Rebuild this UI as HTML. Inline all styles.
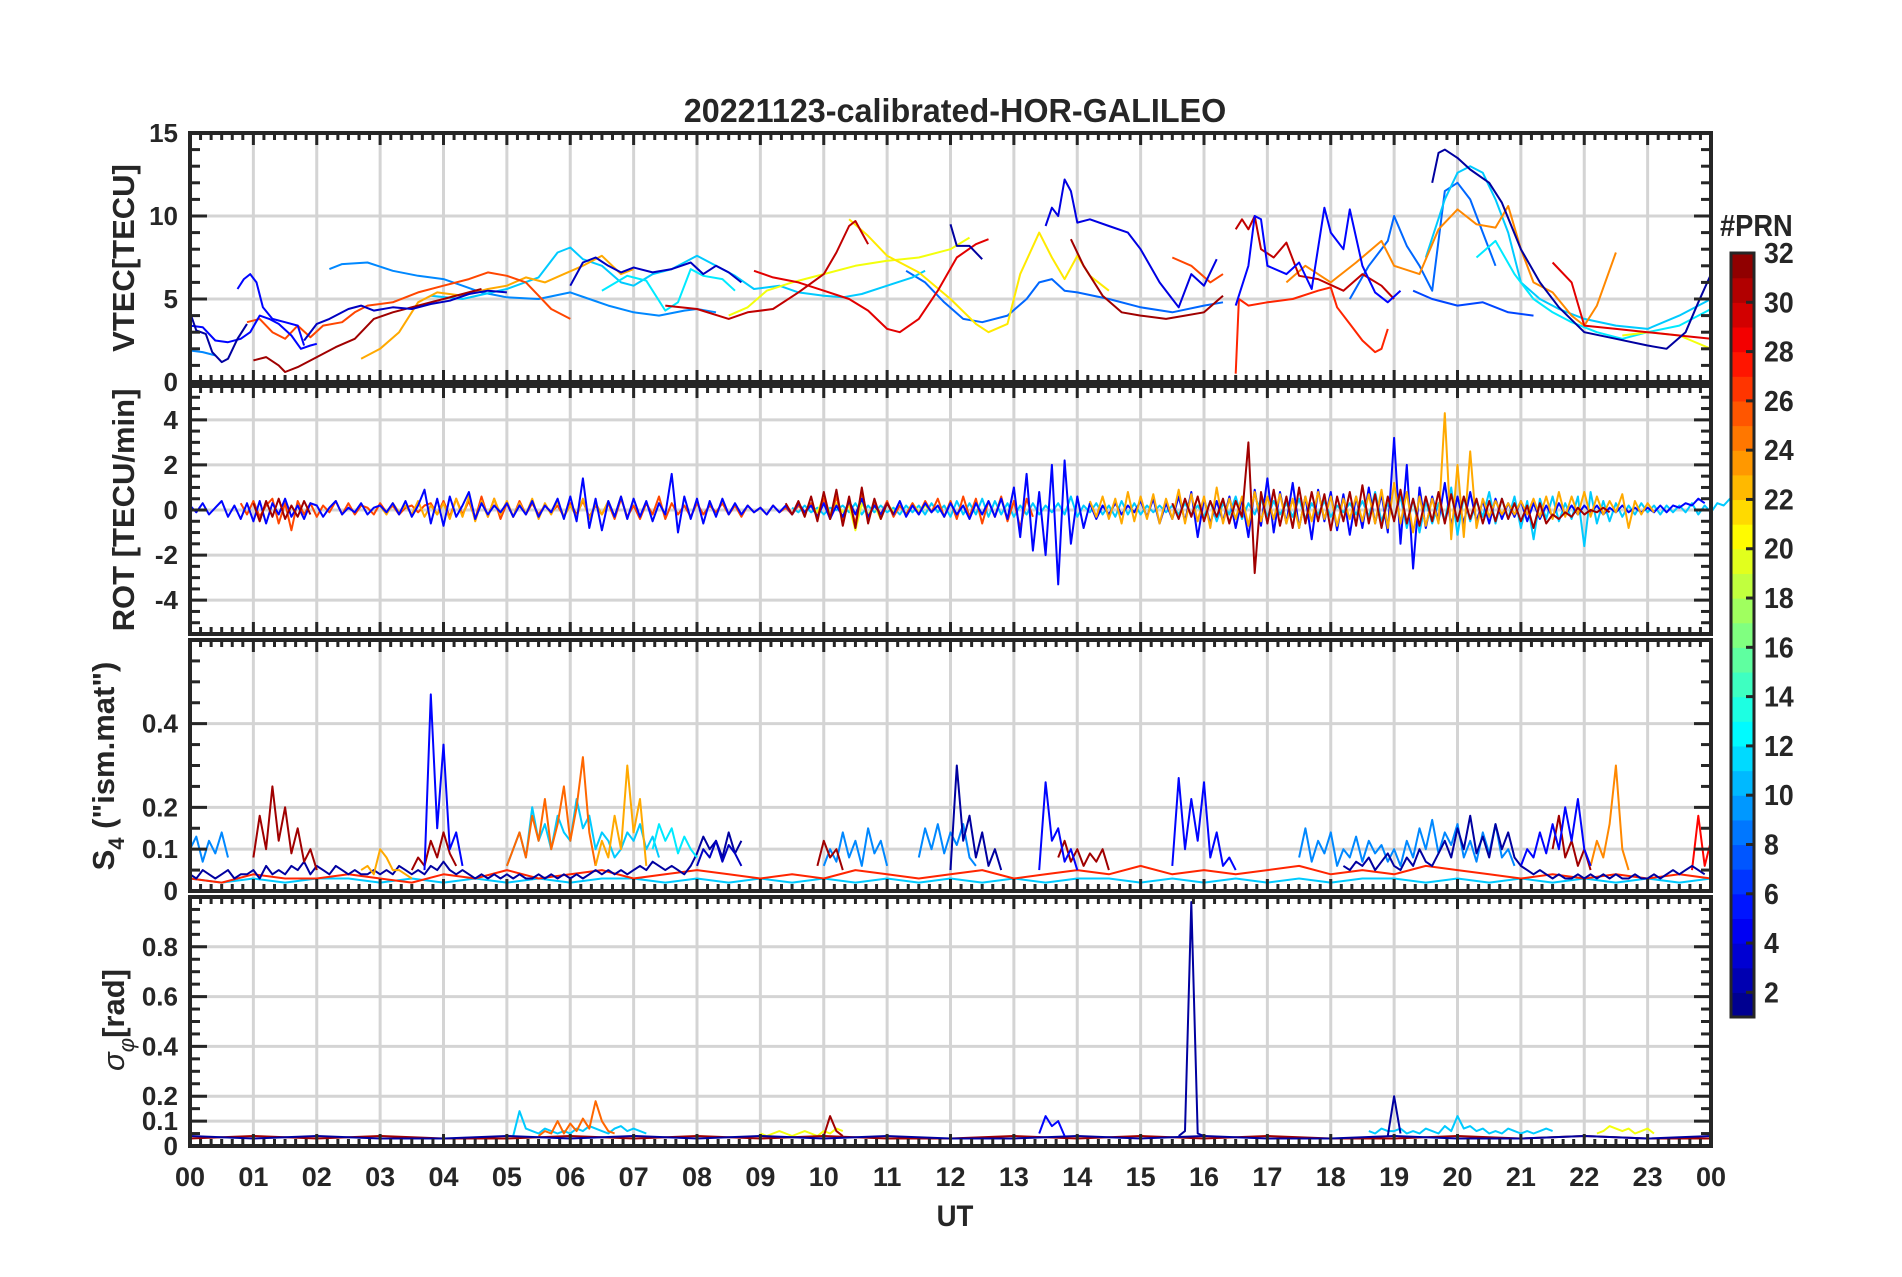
<!DOCTYPE html>
<html><head><meta charset="utf-8">
<style>
html,body{margin:0;padding:0;background:#fff;}
body{width:1902px;height:1272px;overflow:hidden;font-family:"Liberation Sans",Arial,sans-serif;}
svg text{font-family:"Liberation Sans",Arial,sans-serif;font-weight:bold;fill:#262626;}
</style></head>
<body>
<svg id="fig" xmlns="http://www.w3.org/2000/svg" width="1902" height="1272" viewBox="0 0 1902 1272">
<text x="0" y="0" font-size="33" text-anchor="middle" transform="translate(955,122) scale(0.98,1)">20221123-calibrated-HOR-GALILEO</text>
<g id="panels"></g>
<g id="cbar"></g>
<text x="0" y="0" font-size="30" text-anchor="middle" transform="translate(955,1226) scale(0.92,1)">UT</text>
</svg>
<script>
// ---------- data ----------
const hourLabels = ["00","01","02","03","04","05","06","07","08","09","10","11","12","13","14","15","16","17","18","19","20","21","22","23","00"];
const vtecTicks = [0,5,10,15];
const rotTicks = [-4,-2,0,2,4];
const s4Ticks = [0,0.1,0.2,0.4];
const sigTicks = [0,0.1,0.2,0.4,0.6,0.8];
const cbarTicks = [2,4,6,8,10,12,14,16,18,20,22,24,26,28,30,32];

// VTEC series: [hour, TECU]
const vtec_p02a=[[0,4.2],[0.1,3.1],[0.25,2.9],[0.35,1.8],[0.5,1.2],[0.6,1.4],[0.75,2.6],[0.9,3.5]];
const vtec_p05a=[[0,3.4],[0.2,3.3],[0.4,2.5],[0.6,2.4],[0.8,2.6],[0.95,3.0],[1.1,4.0],[1.25,3.8],[1.4,3.5],[1.6,2.8],[1.75,2.0],[1.9,2.2],[2.0,2.3]];
const vtec_p05b=[[0.75,5.6],[0.85,6.2],[0.95,6.5],[1.05,6.0],[1.15,4.5],[1.3,3.8],[1.5,3.6],[1.7,3.4],[1.8,2.2]];
const vtec_p03a=[[1.8,2.5],[2.0,3.5],[2.2,3.8],[2.5,4.4],[2.7,4.6],[2.9,4.3],[3.2,4.5],[3.5,4.4],[3.8,4.7],[4.1,4.9],[4.4,5.3],[4.7,5.5],[5.0,5.4]];
const vtec_p09s=[[0,1.9],[0.2,1.8],[0.4,1.6]];
const vtec_p09a=[[2.2,6.8],[2.4,7.1],[2.8,7.2],[3.2,6.7],[3.6,6.4],[4.0,6.2],[4.3,5.8],[4.6,5.4],[5.0,5.1],[5.5,5.0],[6.0,5.4],[6.3,5.0],[6.6,4.6],[7.0,4.2],[7.4,4.0],[7.8,4.3],[8.0,4.4],[8.3,4.2]];
const vtec_p26a=[[0.9,3.6],[1.1,3.8],[1.3,3.0],[1.5,2.6],[1.7,3.4],[1.9,2.7],[2.1,3.4],[2.4,3.6],[2.6,4.2],[2.8,4.6],[3.2,4.8],[3.6,5.4],[4.0,5.8],[4.4,6.2],[4.7,6.6],[5.0,6.4],[5.3,6.0],[5.5,5.2],[5.7,4.4],[6.0,3.8]];
const vtec_p23a=[[2.7,1.4],[3.0,2.0],[3.3,3.0],[3.6,4.8],[3.9,5.4],[4.3,5.2],[4.7,5.6],[5.0,5.8],[5.3,6.3],[5.6,6.0],[5.9,6.5],[6.2,7.0],[6.5,7.6],[6.8,6.5],[7.0,6.8]];
const vtec_p31a=[[1.0,1.3],[1.2,1.5],[1.4,1.0],[1.5,0.6],[1.7,0.9],[2.0,1.5],[2.3,2.1],[2.6,2.6],[2.9,3.8],[3.2,4.2],[3.6,4.6],[4.0,5.0],[4.6,5.6]];
const vtec_p11a=[[3.8,5.2],[4.3,5.0],[5.0,5.6],[5.5,6.3],[5.8,7.8],[6.0,8.1],[6.2,7.4],[6.5,7.0],[6.8,6.0],[7.0,5.8],[7.3,6.5],[7.6,6.8],[8.0,7.6],[8.3,7.0],[8.6,6.4],[8.9,5.6],[9.3,5.8],[9.6,5.4],[10.0,5.2],[10.3,5.1],[10.6,5.3],[11.0,5.8],[11.4,6.3],[11.6,6.7]];
const vtec_p03b=[[6.0,5.8],[6.2,7.2],[6.4,7.5],[6.6,7.0],[6.8,6.6],[7.0,6.9],[7.3,6.6],[7.6,6.8],[7.9,7.2],[8.1,6.5],[8.3,7.0],[8.5,6.6],[8.7,6.0]];
const vtec_p12a=[[6.5,5.5],[6.9,6.4],[7.2,6.1],[7.5,4.3],[7.7,4.8],[7.9,6.8],[8.1,6.4],[8.4,6.2],[8.6,5.5]];
const vtec_p29a=[[8.9,6.7],[9.2,6.3],[9.6,6.0],[10.0,5.5],[10.4,5.0],[10.7,4.3],[11.0,3.2],[11.2,3.0],[11.5,3.8],[11.8,5.5],[12.1,7.5],[12.4,8.3],[12.6,8.6]];
const vtec_p30a=[[7.5,4.6],[8.0,4.4],[8.5,3.8],[8.8,4.2],[9.2,4.4],[9.6,5.4],[10.0,6.5],[10.2,7.8],[10.4,9.4],[10.5,9.7],[10.6,9.0],[10.7,8.3]];
const vtec_p20a=[[8.5,4.0],[8.8,4.5],[9.1,5.5],[9.5,6.0],[10.0,6.5],[10.5,7.0],[11.0,7.3],[11.5,7.5],[12.0,8.0],[12.3,8.7]];
const vtec_p21a=[[10.4,9.8],[10.7,8.8],[11.0,7.6],[11.5,6.6],[12.0,5.0],[12.4,3.5],[12.6,3.0],[12.9,3.5],[13.1,6.5],[13.4,9.0],[13.6,7.5],[13.8,6.2],[14.0,7.6],[14.2,6.4],[14.5,5.5]];
const vtec_p08a=[[11.3,6.7],[11.6,6.0],[11.9,4.8],[12.2,3.8],[12.5,3.6],[12.9,4.0],[13.2,5.0],[13.4,6.0],[13.6,6.2],[13.8,5.5],[14.0,5.4],[14.5,5.0],[15.0,4.5],[15.5,4.2],[16.0,4.6],[16.3,4.8]];
const vtec_p02b=[[12.0,9.5],[12.1,8.2],[12.3,8.2],[12.5,7.4]];
const vtec_p04a=[[13.5,9.4],[13.6,10.5],[13.7,10.0],[13.8,12.2],[13.9,11.5],[14.0,9.6],[14.2,9.8],[14.5,9.4],[14.8,9.0],[15.0,8.0],[15.3,6.0],[15.5,5.0],[15.6,4.5],[15.8,6.5],[16.0,5.8],[16.2,7.4]];
const vtec_p31b=[[13.9,8.6],[14.1,7.0],[14.4,5.2],[14.7,4.2],[15.0,4.0],[15.4,3.8],[15.7,4.0],[16.0,4.2],[16.3,5.2]];
const vtec_p26b=[[15.5,7.5],[15.8,7.0],[16.1,6.0],[16.3,6.5]];
const vtec_p30b=[[16.5,9.2],[16.6,9.8],[16.7,9.2],[16.8,10.0],[16.9,8.0],[17.1,7.5],[17.3,8.4],[17.5,6.4],[17.8,6.2],[18.2,5.5],[18.5,6.5],[18.8,5.8],[19.0,5.0]];
const vtec_p05c=[[16.5,4.6],[16.7,7.0],[16.8,10.0],[16.9,9.8],[17.0,7.0],[17.3,6.5],[17.5,7.2],[17.7,5.6],[17.9,10.5],[18.0,9.0],[18.2,8.0],[18.3,10.4],[18.5,7.0],[18.7,5.4],[18.9,4.8],[19.1,5.5]];
const vtec_p27a=[[16.5,0.5],[16.55,5.0],[16.7,4.6],[17.0,4.8],[17.4,5.0],[17.8,5.5],[18.0,5.7],[18.1,4.5],[18.3,3.5],[18.5,2.5],[18.7,1.8],[18.8,2.0],[18.9,3.2]];
const vtec_p08b=[[18.3,5.0],[18.6,7.0],[18.9,8.5],[19.0,10.0],[19.2,8.2],[19.4,7.0],[19.6,5.5],[19.8,11.5],[20.0,12.0],[20.2,11.0],[20.4,9.0],[20.6,7.0]];
const vtec_p02c=[[19.6,12.0],[19.7,13.8],[19.8,14.0],[20.0,13.5],[20.2,12.8],[20.5,12.0],[20.7,10.8],[21.0,8.0],[21.3,6.0],[21.6,4.5],[22.0,3.0],[22.5,2.6],[23.0,2.2],[23.3,2.0],[23.6,3.0],[23.8,4.8],[24,6.5]];
const vtec_p11b=[[19.5,7.5],[19.8,11.0],[20.0,12.6],[20.2,13.0],[20.4,12.6],[20.6,11.0],[20.8,9.0],[21.0,6.0],[21.3,5.0],[21.6,4.4],[22.0,3.8],[22.5,3.4],[23.0,3.2],[23.5,4.0],[24,5.0]];
const vtec_p24a=[[17.3,6.0],[17.6,7.0],[18.0,6.0],[18.4,7.2],[18.8,8.5],[19.0,7.0],[19.4,6.5],[19.7,9.2],[20.0,10.4],[20.3,9.5],[20.6,9.3],[20.8,10.6],[21.0,8.0],[21.2,6.0],[21.5,5.4],[21.8,4.0],[22.0,3.4],[22.2,4.6],[22.5,7.8]];
const vtec_p12b=[[20.3,7.5],[20.6,8.5],[20.9,6.5],[21.2,5.0],[21.5,4.2],[21.8,3.6],[22.2,3.0],[22.6,2.6],[23.0,3.0],[23.5,3.4],[24,4.4]];
const vtec_p29b=[[21.5,7.2],[21.8,6.0],[22.0,3.4],[22.5,3.2],[23.0,3.0],[23.5,2.8],[24,2.6]];
const vtec_p20b=[[22.6,2.8],[23.0,3.0],[23.5,2.8],[24,2.0]];
const vtec_p07a=[[19.3,5.5],[19.6,5.0],[20.0,4.6],[20.4,4.8],[20.8,4.2],[21.2,4.0]];

// ROT series: start hour, step 0.1 h, values [TECU/min]
const rot_p05=[0.2,-0.1,0.3,-0.2,0.1,0.4,-0.3,0.2,-0.4,0.3,-0.5,0.4,-0.6,0.3,-0.2,0.5,-0.3,0.2,-0.4,0.3,0.2,-0.3,0.1,0.4,-0.2,0.1,-0.1,0.3,-0.2,0.1,0.2,-0.1,0.3,-0.2,0.4,-0.3,0.2,0.9,-0.6,0.5,-0.7,0.6,-0.3,0.2,0.8,-0.4,0.3,-0.2,0.2,-0.1,0.3,-0.3,0.2,-0.2,0.4,-0.3,0.2,-0.1,0.5,-0.4,0.6,-0.5,1.4,-0.8,0.5,-0.9,0.4,-0.3,0.6,-0.4,0.5,-0.3,0.4,-0.5,0.3,-0.2,1.6,-1.0,0.6,-0.4,0.5,-0.6,0.4,-0.3,0.5,-0.2,0.3,-0.2,0.2,-0.1,0.1,-0.2,0.2,-0.1,0.2,-0.2,0.3,-0.1,0.2,-0.3,0.3,-0.4,0.2,-0.3,0.4,-0.2,0.5,-0.3,0.2,-0.2,0.3,-0.2,0.4,-0.3,0.2,-0.2,0.3,-0.1,0.2,-0.3,0.3,-0.2,0.2,-0.4,0.3,-0.2,0.4,-0.3,0.5,-0.4,1.0,-1.2,1.6,-1.8,0.8,-2.0,2.0,-3.3,2.2,-1.5,0.6,-0.8,0.3,-0.4,0.2,-0.2,0.3,-0.2,0.2,-0.1,0.4,-0.3,0.5,-0.6,0.3,-0.4,0.6,-0.5,0.8,-1.2,0.5,-0.6,0.4,-0.5,0.6,-0.8,0.5,-1.2,0.9,-0.7,1.4,-1.0,0.8,-0.6,1.2,-0.8,0.6,-1.3,0.9,-0.5,0.8,-0.9,0.7,-1.1,0.6,-0.8,1.0,-0.6,0.7,-1.0,3.2,-1.5,2.0,-2.6,1.0,-0.8,0.6,-0.5,1.2,-0.7,0.6,-0.6,0.8,-0.5,0.4,-0.6,0.5,-0.4,0.3,-0.3,0.4,-0.5,0.3,-0.4,0.2,-0.3,0.3,-0.2,0.2,-0.2,0.2,-0.1,0.2,-0.2,0.1,-0.1,0.2,-0.1,0.1,-0.1,0.1,-0.1,0.2,-0.1,0.2,0.1,0.3,0.2,0.5,0.3];
const rot_p05_t0=0;
const rot_p09=[0.1,-0.1,0.2,-0.1,0.1,-0.2,0.1,0.0,0.2,-0.1,0.3,-0.2,0.2,-0.1,0.2,-0.1,0.1,-0.2,0.2,-0.1,0.2,-0.2,0.3,-0.1,0.2,-0.3,0.4,-0.2,0.3,-0.2,0.5,-0.3,0.4,-0.2,0.3,-0.3,0.2,-0.2,0.3,-0.2,0.2,-0.1,0.3,-0.2,0.6,-0.3,0.2,-0.1,0.3,-0.2,0.2,-0.3,0.4,-0.2,0.3,-0.2,0.2,-0.1,0.2,-0.1,0.2,-0.2,0.3,-0.2,0.2,-0.3,0.4,-0.5,0.3,-0.2,0.6,-0.4,0.3,-0.2,0.5,-0.3,0.4,-0.2,0.3,-0.3,0.5,-0.4,0.3,-0.2,0.4,-0.3,0.2,-0.1,0.3,-0.2,0.4,-0.3,0.8,-0.5,0.3,-0.4,0.6,-0.8,0.5,-1.0,0.4,-0.6,0.3,-0.5,1.0,-1.1,0.6,-0.5,0.4,-0.3,0.8,-0.6,0.5,-0.4,0.6,-0.8,0.4,-1.3,0.5,-0.4,0.6,-0.5,0.3,-0.4,0.6,-1.6,0.8,-0.6,0.4,-0.5,0.3,-0.3,0.2,-0.2,0.3,-0.1,0.2,-0.2,0.2,-0.1,0.2,-0.1,0.3,-0.2,0.2,-0.1,0.3,0.2,0.5,0.4,0.7,0.3];
const rot_p09_t0=9.5;
const rot_p26=[0.3,-0.2,0.4,-0.3,0.2,0.5,-0.6,0.3,-0.9,0.4,-0.2,0.3,-0.3,0.2,-0.1,0.4,-0.2,0.3,-0.2,0.2,0.1,-0.2,0.3,-0.1,0.2,-0.2,0.1,0.2,-0.1,0.2,0.3,-0.2,0.4,-0.3,0.5,-0.2,0.4,-0.4,0.6,-0.3,0.5,-0.4,0.3,-0.3,0.4,-0.2,0.3,-0.2,0.2,-0.1,0.2,-0.3,0.3,-0.2,0.4,-0.3,0.2,-0.2,0.3,-0.4,0.5,-0.3,0.2,-0.4,0.3,-0.2,0.6,-0.4,0.3,-0.2,0.2,-0.3,0.3,-0.2,0.2,-0.1,0.3,-0.2,0.2,-0.3,0.2,-0.1,0.1,-0.2,0.2,-0.1,0.1,-0.2,0.2,-0.1,0.3,-0.3,0.5,-0.4,0.6,-0.5,0.4,-0.6,0.8,-0.4,0.3,-0.2,0.4,-0.3,0.2,-0.2,0.3,-0.2,0.4,-0.1,0.5,-0.3,0.4,-0.4,0.6,-0.3,0.5,-0.6,0.4,-0.3,0.6,-0.5,0.4,-0.8,0.5,-0.3];
const rot_p26_t0=0.8;
const rot_p31=[0.3,-0.5,0.4,-0.3,0.5,-0.4,0.2,-0.3,0.4,-0.2];
const rot_p31_t0=1.0;
const rot_p31b=[0.3,-0.2,0.4,-0.3,0.6,-0.5,0.8,-0.4,0.9,-0.7,0.6,-0.8,1.0,-0.6,0.5,-0.4,0.3,-0.2];
const rot_p31b_t0=9.4;
const rot_p31c=[0.3,-0.4,0.5,-0.3,0.6,-0.5,0.4,-0.3,0.5,-0.6,0.4,-0.3,3.0,-2.8,0.8,-0.6,0.9,-0.7,0.6,-0.8,1.0,-0.6,0.8,-0.5,0.7,-0.9,0.6,-0.5,0.8,-0.7,1.1,-0.6,0.7,-0.8,0.6,-0.5,0.9,-0.6,0.5,-0.7,0.6,-0.5,0.8,-0.6,0.7,-0.5,0.6,-0.4,0.5,-0.6,0.4,-0.5,0.5,-0.4,0.3,-0.5,0.2,-0.8,0.3,-0.6,-0.2,-0.4,-0.1,-0.3,0.1,-0.2,0.0,-0.1,0.1,-0.1];
const rot_p31c_t0=15.5;
const rot_p23=[0.2,-0.2,0.3,-0.1,0.2,-0.2,0.4,-0.3,0.2,-0.2,0.3,-0.4,0.5,-0.3,0.6,-0.5,0.4,-0.3,0.5,-0.2,0.4,-0.3,0.3,-0.2,0.5,-0.4,0.3,-0.2,0.4,-0.3,0.2,-0.3,0.5,-0.4,0.3,-0.2,0.4,-0.3,0.6,-0.4];
const rot_p23_t0=3.0;
const rot_p23b=[0.4,-0.3,0.6,-0.4,0.5,-0.6,0.8,-0.5,0.6,-0.4,0.7,-0.6,0.5,-0.4,0.9,-0.6,0.7,-0.5,0.6,-0.8,1.0,-0.6,0.5,-0.4,0.6,-0.7,0.8,-0.5,0.6,-0.4,0.7,-0.6,0.5,-0.8,0.6,-0.5,0.8,-0.4,0.6,-0.7,0.5,-0.4,0.6,-0.5,0.7,-0.6,0.9,-0.8,1.2,-0.6,0.8,-1.0,0.6,-0.7,0.5,-0.6,4.3,-1.3,2.0,-1.2,2.6,-0.8,0.5,-0.3,0.4,-0.2,0.3,-0.2,0.4,-0.2,0.5,-0.3,0.6,-0.4,0.8,-0.3,0.6,-0.2,0.8,-0.3,0.6,-0.2,0.4,-0.1,0.7,-0.8,0.4,-0.2,0.3,-0.1];
const rot_p23b_t0=14.2;
const rot_p20=[0.2,-0.1,0.6,-0.2,0.3,-0.1,0.2,-0.9,0.3,-0.2,0.2,-0.4,0.3,-0.1,0.2,-0.2,0.3,-0.1,0.2,-0.1];
const rot_p20_t0=9.8;

// S4 series (step 0.1 h except base series)
const s4_p02=[0.04,0.03,0.05,0.04,0.03,0.04,0.05,0.03,0.04,0.04,0.05,0.03,0.06,0.04,0.05,0.04,0.06,0.05,0.07,0.04,0.06,0.05,0.04,0.06,0.05,0.04,0.05,0.04,0.04,0.05,0.04,0.05,0.04,0.06,0.05,0.04,0.05,0.04,0.06,0.05,0.07,0.05,0.04,0.05,0.04,0.03,0.04,0.03,0.04,0.03,0.04,0.03,0.04,0.03,0.03,0.04,0.03,0.04,0.03,0.04,0.03,0.04,0.03,0.04,0.05,0.04,0.05,0.04,0.05,0.04,0.05,0.06,0.05,0.07,0.06,0.05,0.06,0.05,0.04,0.06,0.09,0.13,0.10,0.12,0.08,0.14,0.09,0.12];
const s4_p02_t0=0;
const s4_p02b=[0.05,0.30,0.12,0.18,0.08,0.14,0.06,0.10,0.05];
const s4_p02b_t0=12.0;
const s4_p02c=[0.06,0.05,0.07,0.06,0.08,0.05,0.07,0.09,0.06,0.05,0.08,0.06,0.10,0.07,0.06,0.09,0.12,0.08,0.15,0.10,0.18,0.09,0.13,0.08,0.16,0.10,0.14,0.08,0.06,0.05,0.04,0.05,0.04,0.03,0.04,0.03,0.03,0.04,0.03,0.04,0.03,0.04,0.03,0.04,0.03,0.03,0.04,0.03,0.03,0.04,0.03,0.04,0.05,0.04,0.05,0.06,0.05,0.04];
const s4_p02c_t0=18.2;
const s4_p05=[0.05,0.47,0.15,0.35,0.10,0.14,0.06];
const s4_p05_t0=3.7;
const s4_p05b=[0.05,0.26,0.12,0.15,0.07,0.10,0.05];
const s4_p05b_t0=13.4;
const s4_p05c=[0.06,0.27,0.10,0.22,0.12,0.26,0.08,0.14,0.06,0.08,0.05];
const s4_p05c_t0=15.5;
const s4_p05d=[0.06,0.10,0.08,0.14,0.09,0.16,0.10,0.20,0.12,0.22,0.10,0.06];
const s4_p05d_t0=21.0;
const s4_p09=[0.10,0.13,0.07,0.12,0.09,0.14,0.08];
const s4_p09_t0=0;
const s4_p09b=[0.06,0.10,0.07,0.14,0.08,0.12,0.06,0.15,0.09,0.12,0.06];
const s4_p09b_t0=10.0;
const s4_p09c=[0.08,0.15,0.10,0.16,0.09,0.14,0.11,0.16,0.08,0.06];
const s4_p09c_t0=11.5;
const s4_p09d=[0.08,0.15,0.07,0.12,0.09,0.14,0.06,0.10,0.08,0.13,0.07,0.12,0.09,0.11,0.07,0.10,0.06,0.12,0.08,0.15,0.10,0.17,0.09,0.14,0.11,0.16,0.08,0.12,0.07,0.14,0.09,0.16,0.08,0.10,0.06];
const s4_p09d_t0=17.5;
const s4_p11=[0.06,0.10,0.14,0.08,0.20,0.12,0.16,0.10,0.18,0.14,0.12,0.22,0.15,0.18,0.10,0.14,0.12,0.08,0.10,0.14,0.12,0.16,0.10,0.13,0.08];
const s4_p11_t0=5.0;
const s4_p11b=[0.10,0.16,0.12,0.15,0.09,0.13,0.10,0.08];
const s4_p11b_t0=7.3;
const s4_p11c=[0.03,0.02,0.03,0.02,0.03,0.03,0.02,0.03,0.02,0.03,0.02,0.03,0.02,0.03,0.03,0.02,0.03,0.02,0.03,0.02,0.03,0.02,0.03,0.02,0.03,0.02,0.03,0.02,0.03,0.03,0.02,0.03,0.02,0.03,0.02,0.03,0.02,0.03,0.03,0.02,0.03,0.02,0.03,0.02,0.03,0.02,0.03,0.02,0.03];
const s4_p11c_t0=0;
const s4_p11c_dt=0.5;
const s4_p03=[0.06,0.10,0.08,0.12,0.07,0.11,0.09,0.06];
const s4_p03_t0=8.0;
const s4_p25=[0.06,0.10,0.14,0.08,0.18,0.12,0.22,0.10,0.16,0.25,0.12,0.20,0.32,0.14,0.06];
const s4_p25_t0=5.0;
const s4_p23=[0.06,0.12,0.08,0.18,0.10,0.30,0.14,0.22,0.06];
const s4_p23_t0=6.4;
const s4_p23b=[0.05,0.06,0.04,0.10,0.08,0.05,0.05,0.04,0.03];
const s4_p23b_t0=2.7;
const s4_p24=[0.06,0.12,0.08,0.16,0.30,0.10,0.05];
const s4_p24_t0=22.1;
const s4_p27=[0.03,0.02,0.04,0.03,0.03,0.04,0.03,0.02,0.04,0.03,0.05,0.03,0.04,0.05,0.03,0.04,0.05,0.04,0.03,0.04,0.03,0.05,0.04,0.03,0.04,0.05,0.03,0.04,0.05,0.04,0.06,0.04,0.05,0.04,0.05,0.06,0.04,0.05,0.04,0.06,0.05,0.04,0.03,0.04,0.03,0.04,0.03,0.04,0.03];
const s4_p27_t0=0;
const s4_p27_dt=0.5;
const s4_p31=[0.08,0.18,0.10,0.25,0.12,0.20,0.09,0.15,0.07,0.10,0.05];
const s4_p31_t0=1.0;
const s4_p31b=[0.05,0.08,0.06,0.12,0.08,0.14,0.09,0.06];
const s4_p31b_t0=3.5;
const s4_p31c=[0.06,0.12,0.08,0.10,0.05];
const s4_p31c_t0=9.9;
const s4_p31d=[0.08,0.12,0.07,0.10,0.06,0.09,0.07,0.10,0.05];
const s4_p31d_t0=13.7;
const s4_p31e=[0.10,0.18,0.08,0.12,0.06,0.10,0.05];
const s4_p31e_t0=21.5;
const s4_p28=[0.05,0.18,0.06,0.12];
const s4_p28_t0=23.7;

// sigma-phi series
const sig_p02=[0.04,0.03,0.04,0.03,0.03,0.04,0.03,0.04,0.03,0.04,0.03,0.04,0.03,0.03,0.04,0.03,0.04,0.03,0.03,0.04,0.03,0.03,0.04,0.03,0.04];
const sig_p02_t0=0;
const sig_p02_dt=1;
const sig_p02b=[0.04,0.20,0.05];
const sig_p02b_t0=18.9;
const sig_p05=[0.04,0.06,0.98,0.05,0.04];
const sig_p05_t0=15.6;
const sig_p05b=[0.05,0.12,0.08,0.10,0.04];
const sig_p05b_t0=13.4;
const sig_p11=[0.04,0.14,0.07,0.06,0.05,0.07,0.06,0.05,0.06,0.05,0.07,0.06,0.08,0.07,0.06,0.05,0.07,0.08,0.06,0.07,0.06,0.05];
const sig_p11_t0=5.1;
const sig_p11b=[0.06,0.05,0.07,0.06,0.06,0.07,0.05,0.06,0.05,0.07,0.06,0.05,0.08,0.06,0.12,0.07,0.08,0.06,0.07,0.05,0.06,0.05,0.07,0.06,0.05,0.06,0.05,0.06,0.07,0.06];
const sig_p11b_t0=18.6;
const sig_p25=[0.04,0.06,0.05,0.10,0.05,0.09,0.06,0.11,0.07,0.18,0.10,0.06,0.05];
const sig_p25_t0=5.5;
const sig_p20=[0.05,0.04,0.05,0.06,0.05,0.04,0.05,0.06,0.05,0.04,0.06,0.05,0.07,0.06];
const sig_p20_t0=9.0;
const sig_p20b=[0.05,0.06,0.08,0.07,0.06,0.07,0.05,0.06,0.07,0.05];
const sig_p20b_t0=22.2;
const sig_p31=[0.03,0.04,0.03,0.04,0.03,0.03,0.04,0.03,0.04,0.03,0.04,0.03,0.03,0.04,0.03,0.04,0.03,0.04,0.03,0.03,0.04,0.03,0.04,0.03,0.03];
const sig_p31_t0=0;
const sig_p31_dt=1;
const sig_p31b=[0.04,0.12,0.06,0.04];
const sig_p31b_t0=10.0;

// ---------- layout ----------
const XL=190, XR=1711;
const panelsCfg=[
 {name:"vtec",y0:133,y1:382,min:0,max:15,major:vtecTicks,minorStep:1},
 {name:"rot",y0:386,y1:634,min:-5.5,max:5.5,major:rotTicks,minorStep:0.5},
 {name:"s4",y0:640,y1:891,min:0,max:0.6,major:s4Ticks,minorStep:0.05},
 {name:"sigma",y0:897,y1:1146,min:0,max:1.0,major:sigTicks,minorStep:0.05}
];
const NS="http://www.w3.org/2000/svg";
function xs(h){return XL+(XR-XL)*h/24;}
function ysFor(p){return v=>p.y1-(p.y1-p.y0)*(v-p.min)/(p.max-p.min);}
function jet(prn){
 const t=(prn-1)/31;
 const r=Math.max(0,Math.min(1,1.5-Math.abs(4*t-3)));
 const g=Math.max(0,Math.min(1,1.5-Math.abs(4*t-2)));
 const b=Math.max(0,Math.min(1,1.5-Math.abs(4*t-1)));
 return `rgb(${Math.round(r*255)},${Math.round(g*255)},${Math.round(b*255)})`;
}
function mk(tag,parent,attrs){const e=document.createElementNS(NS,tag);for(const k in attrs)e.setAttribute(k,attrs[k]);parent.appendChild(e);return e;}
const root=document.getElementById('panels');

function drawPanel(p,series){
 const ys=ysFor(p);
 const g=mk('g',root,{});
 
 
 for(let h=1;h<24;h++){
  const l=mk('line',g,{x1:xs(h),x2:xs(h),y1:p.y0,y2:p.y1,stroke:'#d4d4d4','stroke-width':3});
  
  
 }
 p.major.forEach(v=>{
  if(v===p.min||v===p.max)return;
  const l=mk('line',g,{x1:XL,x2:XR,y1:ys(v),y2:ys(v),stroke:'#d4d4d4','stroke-width':3});
  
  
 });
 const sg=mk('g',g,{});
 
 
 series.forEach(s=>{
  let pts;
  if(s.pairs) pts=s.pairs.map(q=>xs(q[0]).toFixed(1)+','+ys(Math.max(p.min,Math.min(p.max,q[1]))).toFixed(1));
  else pts=s.v.map((v,i)=>xs(s.t0+i*s.dt).toFixed(1)+','+ys(Math.max(p.min,Math.min(p.max,v))).toFixed(1));
  const pl=mk('polyline',sg,{points:pts.join(' '),fill:'none',stroke:jet(s.prn),'stroke-width':2,'stroke-linejoin':'round'});
  
  
 });
 const tk=mk('g',g,{stroke:'#262626'});
 
 
 for(let i=0;i<=144;i++){
  const x=xs(i/6), L=(i%6===0)?12:7;
  mk('line',tk,{x1:x,x2:x,y1:p.y0,y2:p.y0+L,'stroke-width':3});
  mk('line',tk,{x1:x,x2:x,y1:p.y1,y2:p.y1-L,'stroke-width':3});
 }
 const n=Math.round((p.max-p.min)/p.minorStep);
 for(let i=0;i<=n;i++){
  const v=p.min+i*p.minorStep;
  const isMaj=p.major.some(m=>Math.abs(m-v)<1e-6);
  const L=isMaj?17:10, y=ys(v);
  mk('line',tk,{x1:XL,x2:XL+L,y1:y,y2:y,'stroke-width':3});
  mk('line',tk,{x1:XR,x2:XR-L,y1:y,y2:y,'stroke-width':3});
 }
 const box=mk('rect',g,{x:XL,y:p.y0,width:XR-XL,height:p.y1-p.y0,fill:'none',stroke:'#262626','stroke-width':4});
 
 
 p.major.forEach(v=>{
  const t=mk('text',g,{x:178,y:ys(v)+9,'font-size':26,'text-anchor':'end'});
  t.textContent=String(v);
  
  
 });
}
function pairs(prn,arr){return {prn:prn,pairs:arr};}
function seq(prn,v,t0,dt){return {prn:prn,v:v,t0:t0,dt:dt||0.1};}

drawPanel(panelsCfg[0],[
 pairs(9,vtec_p09s),pairs(9,vtec_p09a),pairs(8,vtec_p08a),pairs(8,vtec_p08b),pairs(7,vtec_p07a),
 pairs(11,vtec_p11a),pairs(11,vtec_p11b),pairs(12,vtec_p12a),pairs(12,vtec_p12b),
 pairs(20,vtec_p20a),pairs(20,vtec_p20b),pairs(21,vtec_p21a),
 pairs(23,vtec_p23a),pairs(24,vtec_p24a),pairs(26,vtec_p26a),pairs(26,vtec_p26b),pairs(27,vtec_p27a),
 pairs(29,vtec_p29a),pairs(29,vtec_p29b),pairs(30,vtec_p30a),pairs(30,vtec_p30b),pairs(31,vtec_p31a),pairs(31,vtec_p31b),
 pairs(5,vtec_p05a),pairs(5,vtec_p05b),pairs(5,vtec_p05c),pairs(4,vtec_p04a),
 pairs(3,vtec_p03a),pairs(3,vtec_p03b),pairs(2,vtec_p02a),pairs(2,vtec_p02b),pairs(2,vtec_p02c)
]);
drawPanel(panelsCfg[1],[
 seq(11,rot_p09,rot_p09_t0),seq(20,rot_p20,rot_p20_t0),seq(26,rot_p26,rot_p26_t0),seq(23,rot_p23,rot_p23_t0),
 seq(5,rot_p05,rot_p05_t0),seq(23,rot_p23b,rot_p23b_t0),
 seq(31,rot_p31,rot_p31_t0),seq(31,rot_p31b,rot_p31b_t0),seq(31,rot_p31c,rot_p31c_t0)
]);
drawPanel(panelsCfg[2],[
 seq(11,s4_p11c,s4_p11c_t0,s4_p11c_dt),seq(27,s4_p27,s4_p27_t0,s4_p27_dt),seq(2,s4_p02,s4_p02_t0),
 seq(9,s4_p09,s4_p09_t0),seq(9,s4_p09b,s4_p09b_t0),seq(9,s4_p09c,s4_p09c_t0),seq(9,s4_p09d,s4_p09d_t0),
 seq(11,s4_p11,s4_p11_t0),seq(12,s4_p11b,s4_p11b_t0),seq(3,s4_p03,s4_p03_t0),
 seq(25,s4_p25,s4_p25_t0),seq(23,s4_p23,s4_p23_t0),seq(23,s4_p23b,s4_p23b_t0),seq(24,s4_p24,s4_p24_t0),
 seq(31,s4_p31,s4_p31_t0),seq(31,s4_p31b,s4_p31b_t0),seq(31,s4_p31c,s4_p31c_t0),seq(31,s4_p31d,s4_p31d_t0),seq(31,s4_p31e,s4_p31e_t0),
 seq(28,s4_p28,s4_p28_t0),
 seq(5,s4_p05,s4_p05_t0),seq(5,s4_p05b,s4_p05b_t0),seq(5,s4_p05c,s4_p05c_t0),seq(5,s4_p05d,s4_p05d_t0),
 seq(2,s4_p02b,s4_p02b_t0),seq(2,s4_p02c,s4_p02c_t0)
]);
drawPanel(panelsCfg[3],[
 seq(11,sig_p11,sig_p11_t0),seq(11,sig_p11b,sig_p11b_t0),seq(20,sig_p20,sig_p20_t0),seq(20,sig_p20b,sig_p20b_t0),
 seq(25,sig_p25,sig_p25_t0),seq(31,sig_p31,sig_p31_t0,sig_p31_dt),seq(31,sig_p31b,sig_p31b_t0),
 seq(2,sig_p02,sig_p02_t0,sig_p02_dt),seq(5,sig_p05b,sig_p05b_t0),seq(2,sig_p02b,sig_p02b_t0),seq(2,sig_p05,sig_p05_t0)
]);

const svg=document.getElementById('fig');
hourLabels.forEach((s,i)=>{
 const t=mk('text',svg,{x:xs(i),y:1186,'font-size':27,'text-anchor':'middle'});
 t.textContent=s;
 
 
});

function ytitle(name,cy,html,x){
 const t=mk('text',svg,{x:0,y:0,'font-size':31,'text-anchor':'middle',transform:`translate(${x},${cy}) rotate(-90)`});
 t.innerHTML=html;
 
 
}
ytitle('vtec-y-axis-title',258,'VTEC[TECU]',134);
ytitle('rot-y-axis-title',510,'ROT [TECU/min]',134);
ytitle('s4-y-axis-title',766,'S<tspan font-size="22" dy="10">4</tspan><tspan dy="-10"> ("ism.mat")</tspan>',114);
ytitle('sigma-y-axis-title',1020,'<tspan font-style="italic" font-weight="normal">σ</tspan><tspan font-size="22" dy="10" font-style="italic" font-weight="normal">φ</tspan><tspan dy="-10">[rad]</tspan>',124);

const cb=document.getElementById('cbar');
const CB_X=1731, CB_W=23, CB_T=253, CB_B=1017;
const cy=v=>CB_B-(CB_B-CB_T)*(v-1)/31;
for(let k=1;k<=31;k++){
 const c=mk('rect',cb,{x:CB_X,y:cy(k+1),width:CB_W,height:cy(k)-cy(k+1)+0.6,fill:jet(k+0.5)});
 
 
}
mk('rect',cb,{x:CB_X,y:CB_T,width:CB_W,height:CB_B-CB_T,fill:'none',stroke:'#262626','stroke-width':3});
cbarTicks.forEach(v=>{
 mk('line',cb,{x1:CB_X+CB_W-8,x2:CB_X+CB_W,y1:cy(v),y2:cy(v),stroke:'#262626','stroke-width':3});
 const t=mk('text',cb,{x:0,y:0,'font-size':29,transform:`translate(1764,${cy(v)+10}) scale(0.92,1)`});
 t.textContent=String(v);
 
 
});
const ct=mk('text',cb,{x:0,y:0,'font-size':31,transform:'translate(1720,236) scale(0.88,1)'});
ct.textContent='#PRN';


</script>
</body></html>
